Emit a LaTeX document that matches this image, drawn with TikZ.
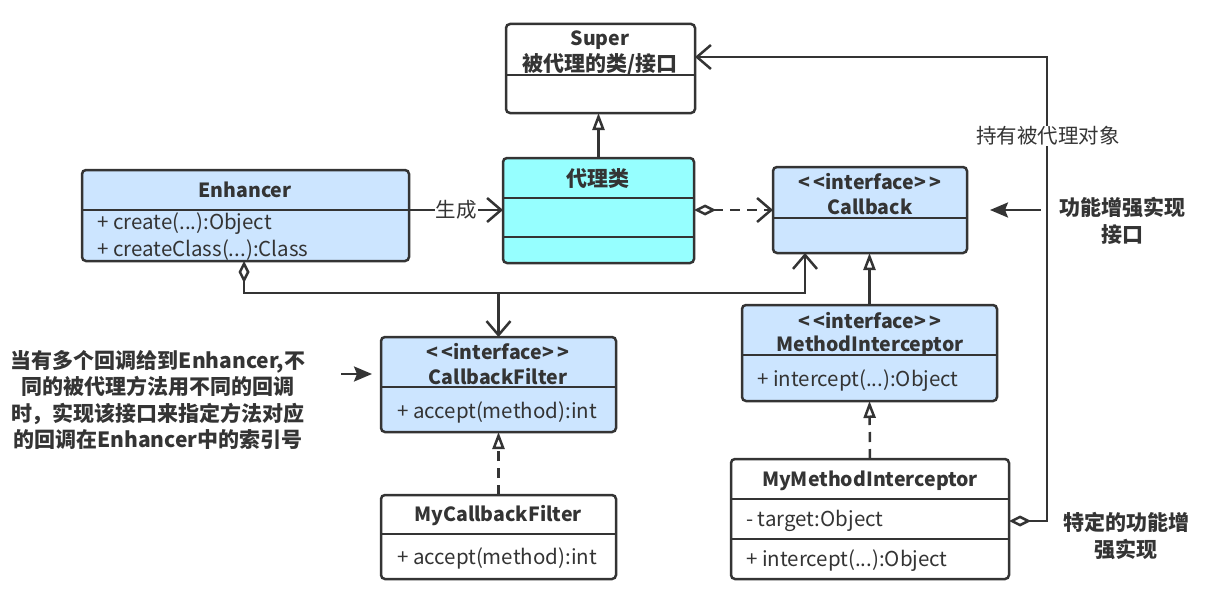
\documentclass[tikz,border=0pt]{standalone}
\usepackage{fontspec}
\setmainfont{Noto Sans CJK SC}
\usetikzlibrary{arrows.meta,calc}
\definecolor{ifblue}{RGB}{204,229,255}
\definecolor{proxycyan}{RGB}{150,255,255}
\definecolor{umlgray}{RGB}{52,52,52}
\tikzset{
  classbox/.style={draw=umlgray, line width=2.5pt, rounded corners=4pt, anchor=north west, inner sep=0pt, outer sep=0pt},
  sepline/.style={draw=umlgray, line width=2.5pt},
  title/.style={font=\bfseries\fontsize{19.5}{22}\selectfont, inner sep=0pt, text=umlgray},
  cjktitle/.style={font=\bfseries\fontsize{21}{24}\selectfont, inner sep=0pt, text=umlgray},
  member/.style={font=\fontsize{20.5}{24}\selectfont, anchor=west, inner sep=0pt, text=umlgray},
  note/.style={font=\fontsize{20.5}{24}\selectfont, inner sep=1pt, text=umlgray},
  bignote/.style={font=\bfseries\fontsize{21}{26.5}\selectfont, align=center, inner sep=0pt, text=umlgray},
  conn/.style={draw=umlgray, line width=2.5pt},
  gen/.style={-{Triangle[open, length=17pt, width=12pt, line width=2.5pt]}},
  assoc/.style={-{Straight Barb[length=14pt, width=24pt, line width=2.5pt]}},
  hold/.style={{Diamond[open, length=22pt, width=11pt, line width=2.5pt]}-{Straight Barb[length=14pt, width=24pt, line width=2.5pt]}},
  pointer/.style={-{Stealth[length=18pt, width=15pt, inset=3pt]}}
}
\newcommand{\stereo}{<\kern3.5pt<interface>\kern3.5pt>}
\begin{document}
\begin{tikzpicture}[x=1pt, y=-1pt]
  \useasboundingbox (0,0) rectangle (1219,594);
  % Super
  \node[classbox, fill=white, minimum width=189pt, minimum height=89pt] (super) at (506,24) {};
  \draw[sepline] (506,75) -- (695,75);
  \node[title] (supername) at (600,40) {Super};
  \node[cjktitle] (superdesc) at (600,64) {被代理的类/接口};
  % Enhancer
  \node[classbox, fill=ifblue, minimum width=327pt, minimum height=91pt] (enhancer) at (82,170) {};
  \draw[sepline] (82,210) -- (409,210);
  \node[title] (enhancername) at (245,190) {Enhancer};
  \node[member] (enhcreate) at (97,224) {+ create(...):Object};
  \node[member] (enhclass) at (97,250) {+ createClass(...):Class};
  % proxy class
  \node[classbox, fill=proxycyan, minimum width=191pt, minimum height=105pt] (proxy) at (503,158) {};
  \draw[sepline] (503,198) -- (694,198);
  \draw[sepline] (503,237) -- (694,237);
  \node[cjktitle] (proxyname) at (598,179) {代理类};
  % Callback
  \node[classbox, fill=ifblue, minimum width=194pt, minimum height=86pt] (callback) at (773,167) {};
  \draw[sepline] (773,218) -- (967,218);
  \node[title] (cbstereo) at (870,182) {\stereo};
  \node[title] (cbname) at (870,207) {Callback};
  % CallbackFilter
  \node[classbox, fill=ifblue, minimum width=235pt, minimum height=95pt] (filter) at (381,337) {};
  \draw[sepline] (381,387) -- (616,387);
  \node[title] (filterstereo) at (498,352) {\stereo};
  \node[title] (filtername) at (498,377) {CallbackFilter};
  \node[member] (filteraccept) at (397,412) {+ accept(method):int};
  % MethodInterceptor
  \node[classbox, fill=ifblue, minimum width=255pt, minimum height=96pt] (interceptor) at (742,305) {};
  \draw[sepline] (742,355) -- (997,355);
  \node[title] (icstereo) at (870,321) {\stereo};
  \node[title] (icname) at (870,346) {MethodInterceptor};
  \node[member] (icintercept) at (757,381) {+ intercept(...):Object};
  % MyCallbackFilter
  \node[classbox, fill=white, minimum width=235pt, minimum height=84pt] (mycbfilter) at (381,495) {};
  \draw[sepline] (381,534) -- (616,534);
  \node[title] (mycfname) at (498,516) {MyCallbackFilter};
  \node[member] (mycfaccept) at (397,558) {+ accept(method):int};
  % MyMethodInterceptor
  \node[classbox, fill=white, minimum width=278pt, minimum height=120pt] (myinterceptor) at (731,459) {};
  \draw[sepline] (731,499) -- (1009,499);
  \draw[sepline] (731,539) -- (1009,539);
  \node[title] (myicname) at (870,481) {MyMethodInterceptor};
  \node[member] (myictarget) at (746,521) {- target:Object};
  \node[member] (myicintercept) at (746,561) {+ intercept(...):Object};
  % connectors
  \coordinate (genrow) at (0,210);
  \coordinate (bus) at (0,293);
  \coordinate (holdrow) at (0,521);
  \coordinate (holdturn) at (1047,57);
  \coordinate (noterow) at (0,374);
  \coordinate (enhtap) at ($(enhancer.south west)+(162,0)$);
  \coordinate (cbtap) at ($(callback.south west)+(32,0)$);
  \draw[conn, gen] (proxy.north) -- (proxy.north |- super.south);
  \draw[conn, assoc] (enhancer.east |- genrow) -- node[note, fill=white] (genlabel) {生成} (proxy.west |- genrow);
  \draw[conn, dash pattern=on 10pt off 7pt, hold] (proxy.east |- genrow) -- (callback.west |- genrow);
  \draw[conn, hold] (enhtap) |- (bus -| cbtap) -- (cbtap);
  \draw[conn, assoc] (bus -| filter.north) -- (filter.north);
  \draw[conn, gen] (interceptor.north) -- (interceptor.north |- callback.south);
  \draw[conn, dash pattern=on 10pt off 7pt, gen] (mycbfilter.north) -- (filter.south);
  \draw[conn, dash pattern=on 10pt off 7pt, gen] (myinterceptor.north) -- (interceptor.south);
  \draw[conn, hold] (myinterceptor.east |- holdrow) -| (holdturn) -- (super.east |- holdturn);
  \node[note, fill=white] (holdlabel) at (1048,136) {持有被代理对象};
  % notes
  \node[bignote] (featurenote) at (1122,221) {功能增强实现\\接口};
  \draw[conn, pointer, shorten <=18pt, shorten >=23pt] (featurenote.west |- callback.east) -- (callback.east);
  \node[bignote] (filternote) at (158,400) {当有多个回调给到Enhancer,不\\同的被代理方法用不同的回调\\时，实现该接口来指定方法对应\\的回调在Enhancer中的索引号};
  \draw[conn, pointer, shorten <=36pt, shorten >=9pt] (filternote.east |- noterow) -- (filter.west |- noterow);
  \node[bignote] (specialnote) at (1126,536) {特定的功能增\\强实现};
\end{tikzpicture}
\end{document}
